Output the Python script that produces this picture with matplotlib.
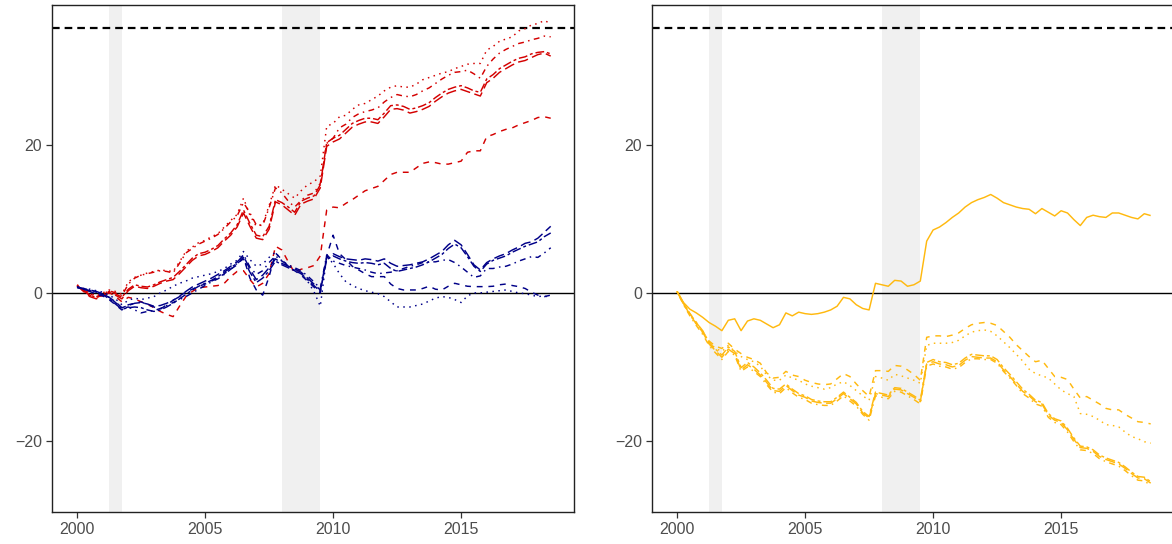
import numpy as np
import matplotlib
matplotlib.use("Agg")
import matplotlib.pyplot as plt

plt.rcParams["font.family"] = ["Liberation Sans", "DejaVu Sans"]
plt.rcParams["lines.scale_dashes"] = False

# Quarterly dates, 2000Q1 .. 2018Q3
dates = 2000 + 0.25 * np.arange(75)

recessions = [(2001.25, 2001.75), (2008.0, 2009.5)]
target_level = 35.8

x_ticks = [2000, 2005, 2010, 2015]
y_ticks = [-20, 0, 20]

# ---- left panel, red group ----
red_dotted = [
    1.1, 0.5, 0.0, -0.4,
    0.0, 0.4, 0.2, -0.2,
    1.5, 2.1, 2.4, 2.7,
    2.9, 3.1, 3.0, 2.9,
    4.2, 5.6, 6.2, 6.8,
    7.1, 7.6, 8.0, 8.9,
    9.8, 10.6, 12.8, 10.5,
    9.0, 9.3, 11.8, 14.6,
    14.0, 13.4, 12.8, 13.8,
    14.6, 15.0, 15.8, 22.5,
    22.9, 23.8, 24.0, 24.8,
    25.4, 25.6, 26.1, 26.6,
    27.3, 27.8, 28.0, 27.8,
    27.8, 28.2, 28.8, 29.1,
    29.4, 29.7, 29.9, 30.3,
    30.6, 30.9, 31.0, 31.0,
    32.8, 33.3, 34.0, 34.3,
    34.6, 35.4, 35.7, 36.2,
    36.4, 36.8, 36.4,
]
red_dotdash = [
    1.0, 0.4, -0.1, -0.5,
    -0.2, 0.3, 0.0, -0.4,
    1.2, 2.0, 2.4, 2.6,
    2.8, 3.0, 2.9, 2.7,
    4.0, 5.4, 6.0, 6.6,
    7.0, 7.4, 7.9, 8.7,
    9.6, 10.4, 12.2, 10.8,
    9.2, 9.1, 11.5, 14.2,
    13.5, 12.4, 11.6, 12.5,
    13.2, 13.5, 14.8, 20.2,
    20.9, 22.3, 22.8, 23.7,
    24.2, 24.5, 24.7, 25.0,
    25.8, 26.4, 26.8, 26.6,
    26.5, 26.8, 27.3, 27.7,
    28.3, 28.9, 29.4, 29.8,
    29.9, 30.1, 29.6, 29.0,
    30.6, 31.6, 32.4, 32.9,
    33.3, 33.7, 33.9, 34.2,
    34.4, 34.7, 34.6,
]
red_longdash = [
    1.0, 0.2, -0.5, -0.8,
    -0.4, 0.0, -0.3, -0.8,
    0.3, 0.9, 0.7, 0.6,
    0.9, 1.3, 1.6, 1.8,
    2.6, 3.5, 4.4, 5.0,
    5.2, 5.6, 6.1, 7.0,
    7.8, 8.9, 10.8, 9.0,
    7.4, 7.2, 8.6, 12.3,
    11.9, 11.2, 10.5, 12.0,
    12.4, 12.7, 14.2, 19.8,
    20.4, 20.8, 21.6, 22.4,
    22.8, 23.1, 23.1, 22.9,
    23.8, 24.8, 24.9, 24.7,
    24.3, 24.5, 24.8, 25.2,
    25.9, 26.5, 27.0, 27.3,
    27.5, 27.2, 26.9, 26.6,
    28.4, 29.0, 29.8, 30.3,
    30.8, 31.2, 31.4, 31.8,
    32.2, 32.4, 32.0,
]
red_twodash = [
    0.9, 0.3, -0.3, -0.6,
    -0.3, 0.2, -0.1, -0.6,
    0.5, 1.1, 0.9, 0.8,
    1.1, 1.5, 1.8, 2.1,
    2.9, 3.8, 4.7, 5.3,
    5.5, 5.9, 6.4, 7.3,
    8.1, 9.2, 11.2, 9.4,
    7.8, 7.6, 9.0, 12.6,
    12.2, 11.6, 10.9, 12.4,
    12.8, 13.1, 14.6, 20.3,
    20.9, 21.3, 22.1, 22.9,
    23.3, 23.6, 23.6, 23.4,
    24.3, 25.3, 25.4, 25.2,
    24.8, 25.0, 25.3, 25.7,
    26.4, 27.0, 27.5, 27.8,
    28.0, 27.7, 27.3, 27.1,
    28.9, 29.5, 30.3, 30.8,
    31.3, 31.7, 31.9, 32.3,
    32.5, 32.6, 32.3,
]
red_dashed = [
    1.0, 0.3, -0.3, -0.6,
    -0.3, 0.1, -0.5, -1.2,
    -0.6, -0.8, -1.2, -1.5,
    -2.0, -2.5, -2.9, -3.2,
    -1.8, -0.5, 0.2, 0.7,
    0.8, 0.9, 1.0, 1.3,
    2.2, 2.9, 3.0, 1.8,
    0.8, 1.3, 2.6, 6.3,
    5.8, 4.2, 2.7, 3.2,
    3.4, 3.7, 5.0, 11.2,
    11.6, 11.5, 12.1, 12.6,
    13.2, 13.8, 14.1, 14.4,
    15.2, 16.0, 16.3, 16.3,
    16.3, 16.9, 17.5, 17.7,
    17.6, 17.4, 17.4, 17.6,
    17.8, 19.0, 19.2, 19.2,
    21.1, 21.4, 21.8, 22.1,
    22.3, 22.7, 23.0, 23.3,
    23.7, 23.8, 23.6,
]

# ---- left panel, blue group ----
blue_longdash = [
    0.8, 0.6, 0.4, 0.2,
    -0.1, -0.6, -1.2, -2.0,
    -1.7, -1.4, -1.3, -1.5,
    -1.8, -1.7, -1.4, -1.0,
    -0.5, 0.2, 0.8, 1.2,
    1.6, 2.0, 2.5, 3.0,
    3.6, 4.2, 5.0, 3.2,
    1.8, 2.4, 3.4, 4.6,
    4.0, 3.6, 3.2, 2.8,
    2.0, 1.2, 0.4, 4.8,
    5.3, 4.9, 4.6, 4.5,
    4.4, 4.6, 4.5, 4.3,
    4.6, 4.0, 3.6, 3.7,
    3.8, 4.0, 4.2, 4.6,
    5.1, 5.6, 6.5, 7.1,
    6.5, 5.2, 3.8, 3.1,
    4.1, 4.6, 5.0, 5.3,
    5.8, 6.2, 6.7, 6.9,
    7.4, 8.2, 9.0,
]
blue_twodash = [
    0.7, 0.5, 0.3, 0.1,
    -0.2, -0.8, -1.5, -2.2,
    -2.0, -1.9, -2.0, -2.3,
    -2.5, -2.3, -1.9, -1.4,
    -0.8, -0.2, 0.4, 0.9,
    1.3, 1.7, 2.2, 2.8,
    3.4, 4.0, 4.6, 2.8,
    1.4, 2.0, 3.0, 4.3,
    3.8, 3.4, 3.0, 2.6,
    1.8, 1.0, 0.2, 4.5,
    5.0, 4.6, 4.3, 4.1,
    4.0, 4.1, 4.0, 3.8,
    4.0, 3.3, 2.9, 3.1,
    3.3, 3.5, 3.8, 4.2,
    4.7, 5.2, 6.0, 6.6,
    6.1, 4.9, 3.6, 2.9,
    3.9, 4.4, 4.7, 5.0,
    5.5, 5.9, 6.3, 6.6,
    6.9, 7.6, 8.1,
]
blue_dotdash = [
    0.8, 0.5, 0.3, 0.0,
    -0.2, -0.6, -1.3, -2.1,
    -1.9, -2.3, -2.7, -2.5,
    -2.4, -2.1, -1.7, -1.3,
    -0.9, -0.5, 0.0, 0.5,
    1.0, 1.5, 1.9, 2.5,
    3.2, 4.0, 5.2, 3.5,
    2.5, 3.0, 4.1, 5.0,
    4.3, 3.8, 3.4, 3.0,
    2.3, 1.5, 0.6, 5.1,
    4.3, 4.0, 3.7, 3.5,
    3.3, 3.1, 2.8, 2.6,
    2.7, 2.8, 3.0, 3.3,
    3.6, 3.8, 4.1, 4.2,
    4.2, 4.4, 4.5, 4.1,
    3.5, 2.8, 2.1, 2.3,
    3.3, 3.3, 3.5, 3.6,
    3.9, 4.3, 4.6, 4.9,
    4.8, 5.4, 6.1,
]
blue_dashed = [
    0.8, 0.5, 0.2, -0.2,
    -0.4, -0.9, -1.6, -2.3,
    -1.6, -1.4, -1.2, -1.6,
    -1.9, -2.2, -1.6, -1.0,
    -0.4, 0.1, 0.5, 0.9,
    1.2, 1.6, 2.0, 2.6,
    3.2, 3.8, 4.8, 2.0,
    0.4, -0.3, 2.2, 5.4,
    4.5, 3.6, 3.0, 2.4,
    1.6, 0.8, 0.0, 5.0,
    7.8, 5.3, 4.5, 3.6,
    3.1, 2.6, 2.2, 2.2,
    2.2, 1.2, 0.6, 0.4,
    0.4, 0.4, 0.6, 0.9,
    0.5, 0.4, 0.9, 1.3,
    1.1, 0.9, 0.85, 0.85,
    0.85, 0.9, 1.1, 1.2,
    1.0, 0.85, 0.6, 0.1,
    -0.3, -0.5, -0.3,
]
blue_dotted = [
    0.8, 0.6, 0.5, 0.3,
    0.1, -0.3, -0.8, -1.6,
    -1.0, -0.7, -0.9, -0.7,
    -0.5, 0.0, 0.4, 0.9,
    1.3, 1.6, 2.0, 2.2,
    2.4, 2.6, 2.9, 3.3,
    3.9, 4.4, 5.6, 4.5,
    3.6, 3.9, 4.8, 5.5,
    4.3, 3.6, 3.3, 2.6,
    1.6, 0.2, -1.8, 4.9,
    4.0, 2.6, 1.5, 1.0,
    0.6, 0.3, 0.1, -0.1,
    -0.5, -1.2, -1.9, -1.9,
    -1.9, -1.7, -1.5, -1.1,
    -0.7, -0.5, -0.6, -0.9,
    -1.3, -0.4, 0.0, 0.0,
    0.1, 0.2, 0.3, 0.4,
    0.2, 0.0, -0.1, -0.3,
    -0.5, -0.4, -0.7,
]

# ---- right panel, orange group ----
orange_solid = [
    0.2, -1.3, -2.2, -2.7,
    -3.3, -4.0, -4.5, -5.1,
    -3.7, -3.5, -5.1, -3.8,
    -3.5, -3.7, -4.2, -4.7,
    -4.3, -2.7, -3.1, -2.6,
    -2.8, -2.9, -2.8, -2.6,
    -2.3, -1.8, -0.6, -0.8,
    -1.6, -2.1, -2.3, 1.3,
    1.1, 0.9, 1.7, 1.6,
    0.9, 1.1, 1.6, 7.0,
    8.5, 8.9, 9.5, 10.2,
    10.8, 11.6, 12.2, 12.6,
    12.9, 13.3, 12.8, 12.2,
    11.9, 11.6, 11.4, 11.3,
    10.7, 11.4, 10.9, 10.4,
    11.1, 10.8, 9.9, 9.1,
    10.2, 10.5, 10.3, 10.2,
    10.8, 10.8, 10.5, 10.2,
    10.0, 10.7, 10.45,
]
orange_dashed = [
    0.2, -1.4, -2.8, -4.0,
    -5.2, -6.5, -7.2, -7.5,
    -6.8, -7.6, -8.2, -8.7,
    -9.0, -9.5, -10.8, -11.5,
    -11.4, -10.6, -11.1, -11.3,
    -11.8, -12.1, -12.3, -12.4,
    -12.3, -11.6, -10.9, -11.3,
    -12.3, -13.2, -14.0, -10.5,
    -10.5, -10.6, -9.8, -9.9,
    -10.4, -11.0, -11.8, -6.0,
    -5.8, -5.8, -5.9, -5.7,
    -5.4, -4.8, -4.3, -4.1,
    -4.0, -4.1, -4.4, -5.2,
    -6.0, -7.0, -7.8, -8.6,
    -9.3, -9.1, -10.2, -11.3,
    -11.4, -11.7, -13.0, -14.2,
    -14.0, -14.5, -15.0, -15.6,
    -15.8, -15.8, -16.4, -16.9,
    -17.4, -17.5, -17.7,
]
orange_dotted = [
    0.2, -1.5, -2.9, -4.2,
    -5.4, -6.7, -7.5, -7.9,
    -7.1, -7.9, -8.6, -9.0,
    -9.3, -9.9, -11.1, -11.8,
    -11.8, -11.1, -11.5, -11.8,
    -12.3, -12.6, -12.8, -13.0,
    -12.8, -12.3, -12.0, -12.5,
    -13.2, -13.9, -14.5, -11.3,
    -11.5, -11.8, -11.0, -11.2,
    -11.5, -11.8, -12.2, -7.1,
    -6.8, -6.8, -6.8, -6.7,
    -6.4, -5.8, -5.3, -5.1,
    -5.0, -5.2, -5.8, -6.6,
    -7.4, -8.3, -9.2, -10.3,
    -10.9, -11.2, -11.5, -12.3,
    -13.1, -13.6, -14.0, -16.3,
    -16.4, -16.7, -17.2, -17.8,
    -17.9, -18.1, -18.8, -19.4,
    -19.7, -20.1, -20.3,
]
orange_longdash = [
    0.2, -1.5, -2.9, -4.2,
    -5.3, -6.9, -7.8, -8.7,
    -7.6, -8.2, -10.4, -9.7,
    -10.3, -11.1, -12.1, -13.2,
    -13.3, -12.5, -13.2, -13.8,
    -14.1, -14.6, -14.8, -14.9,
    -14.9, -14.3, -13.6, -14.3,
    -15.0, -16.2, -16.9, -13.6,
    -13.8, -14.0, -13.0, -13.1,
    -13.6, -14.1, -14.7, -9.6,
    -9.3, -9.6, -9.7, -10.0,
    -9.8, -9.1, -8.6, -8.7,
    -8.8, -8.8, -9.3, -10.4,
    -11.3, -12.3, -13.3, -13.9,
    -14.7, -15.0, -16.5, -17.2,
    -17.5, -18.5, -19.8, -20.9,
    -21.0, -21.4, -22.1, -22.5,
    -22.8, -23.1, -23.7, -24.4,
    -25.0, -25.1, -25.7,
]
orange_dotdash = [
    0.2, -1.6, -3.1, -4.4,
    -5.6, -7.1, -8.1, -9.0,
    -7.9, -8.4, -10.6, -10.0,
    -10.6, -11.3, -12.4, -13.4,
    -13.6, -12.8, -13.5, -14.1,
    -14.4, -14.9, -15.1, -15.2,
    -15.2, -14.6, -13.9, -14.6,
    -15.3, -16.4, -17.2, -13.9,
    -14.1, -14.3, -13.3, -13.4,
    -13.9, -14.4, -15.0, -9.9,
    -9.6, -9.9, -10.0, -10.3,
    -10.1, -9.4, -8.9, -8.9,
    -9.0, -9.0, -9.5, -10.6,
    -11.5, -12.5, -13.6, -14.2,
    -15.0, -15.3, -16.8, -17.5,
    -17.8, -18.8, -20.1, -21.2,
    -21.3, -21.7, -22.4, -22.8,
    -23.1, -23.4, -24.0, -24.7,
    -25.3, -25.4, -26.0,
]
orange_twodash = [
    0.2, -1.4, -2.8, -4.0,
    -5.1, -6.7, -7.6, -8.4,
    -7.3, -7.9, -10.1, -9.4,
    -10.0, -10.8, -11.8, -12.9,
    -13.0, -12.3, -13.0, -13.6,
    -13.9, -14.4, -14.6, -14.7,
    -14.7, -14.1, -13.4, -14.1,
    -14.8, -16.0, -16.7, -13.4,
    -13.6, -13.8, -12.8, -12.9,
    -13.4, -13.9, -14.5, -9.4,
    -9.0, -9.3, -9.4, -9.7,
    -9.5, -8.8, -8.3, -8.4,
    -8.5, -8.5, -9.0, -10.1,
    -11.0, -12.0, -13.0, -13.7,
    -14.5, -14.8, -16.3, -17.0,
    -17.3, -18.3, -19.6, -20.7,
    -20.8, -21.2, -21.9, -22.3,
    -22.6, -22.9, -23.5, -24.2,
    -24.8, -24.9, -25.5,
]

RED = "#D40000"
BLUE = "#000088"
ORANGE = "#FFB90F"

# ggplot-like line types (points)
LT = {
    "solid": None,
    "dashed": (4.2, 4.2),
    "dotted": (1.1, 3.2),
    "dotdash": (1.1, 3.2, 4.2, 3.2),
    "longdash": (7.4, 3.2),
    "twodash": (2.1, 2.1, 6.3, 2.1),
}

left_series = [
    (red_dashed, RED, "dashed"),
    (red_longdash, RED, "longdash"),
    (red_twodash, RED, "twodash"),
    (red_dotdash, RED, "dotdash"),
    (red_dotted, RED, "dotted"),
    (blue_dashed, BLUE, "dashed"),
    (blue_dotted, BLUE, "dotted"),
    (blue_dotdash, BLUE, "dotdash"),
    (blue_longdash, BLUE, "longdash"),
    (blue_twodash, BLUE, "twodash"),
]
right_series = [
    (orange_solid, ORANGE, "solid"),
    (orange_dashed, ORANGE, "dashed"),
    (orange_dotted, ORANGE, "dotted"),
    (orange_longdash, ORANGE, "longdash"),
    (orange_dotdash, ORANGE, "dotdash"),
    (orange_twodash, ORANGE, "twodash"),
]

W, H = 1172, 544
fig = plt.figure(figsize=(W / 100, H / 100), dpi=100)
ax_l = fig.add_axes([52 / W, 1 - 512 / H, 522 / W, 507 / H])
ax_r = fig.add_axes([652 / W, 1 - 512 / H, 522 / W, 507 / H])


def draw_panel(ax, series):
    for a, b in recessions:
        ax.axvspan(a, b, color="#F0F0F0", lw=0, zorder=0)
    ax.axhline(0, color="black", lw=1.0, zorder=1)
    ax.axhline(target_level, color="black", lw=1.6, dashes=(5.5, 3.6), zorder=1)
    for vals, col, lt in series:
        assert len(vals) == len(dates)
        line, = ax.plot(dates, vals, color=col, lw=1.05, zorder=2,
                        solid_capstyle="butt", dash_capstyle="butt")
        if LT[lt] is not None:
            line.set_dashes(LT[lt])
    ax.set_xlim(1999.02, 2019.41)
    ax.set_ylim(-29.6, 38.9)
    ax.set_xticks(x_ticks)
    ax.set_yticks(y_ticks)
    ax.tick_params(direction="out", length=4, width=0.9, color="#333333",
                   labelcolor="#4D4D4D", labelsize=11.5, pad=3)
    for sp in ax.spines.values():
        sp.set_color("#222222")
        sp.set_linewidth(1.0)


draw_panel(ax_l, left_series)
draw_panel(ax_r, right_series)

fig.savefig("out.png", dpi=100)
